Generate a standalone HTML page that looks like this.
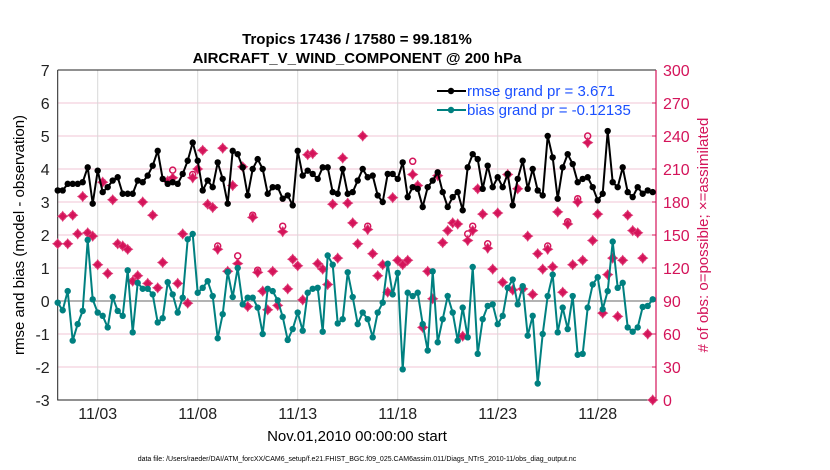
<!DOCTYPE html>
<html><head><meta charset="utf-8"><style>
body{margin:0;background:#fff;}
svg{display:block;font-family:"Liberation Sans",sans-serif;}
</style></head><body>
<svg id="chart" width="830" height="470" viewBox="0 0 830 470" xmlns="http://www.w3.org/2000/svg">
<rect width="830" height="470" fill="#fff"/>
<text x="357" y="44" font-size="15" font-weight="bold" text-anchor="middle">Tropics 17436 / 17580 = 99.181%</text>
<text x="357" y="63" font-size="15" font-weight="bold" text-anchor="middle">AIRCRAFT_V_WIND_COMPONENT @ 200 hPa</text>
<g id="grid"></g>
<g id="axes"></g>
<g id="series"></g>
<g>
<line x1="437" y1="91" x2="466" y2="91" stroke="#000" stroke-width="2"/>
<circle cx="451" cy="91" r="3.2" fill="#000"/>
<text x="467" y="96" font-size="15" fill="#1a4fff">rmse grand pr = 3.671</text>
<line x1="437" y1="110" x2="466" y2="110" stroke="#008080" stroke-width="2"/>
<circle cx="451" cy="110" r="3.2" fill="#008080"/>
<text x="467" y="115" font-size="15" fill="#1a4fff">bias grand pr = -0.12135</text>
</g>
<text transform="translate(24,235) rotate(-90)" font-size="15" text-anchor="middle">rmse and bias (model - observation)</text>
<text transform="translate(708,235) rotate(-90)" font-size="15" text-anchor="middle" fill="#d4145a"># of obs: o=possible; ×=assimilated</text>
<text x="357" y="441" font-size="15" text-anchor="middle">Nov.01,2010 00:00:00 start</text>
<text x="357" y="461" font-size="7" text-anchor="middle">data file: /Users/raeder/DAI/ATM_forcXX/CAM6_setup/f.e21.FHIST_BGC.f09_025.CAM6assim.011/Diags_NTrS_2010-11/obs_diag_output.nc</text>
</svg>
<script>
const rmse=[3.35,3.35,3.55,3.55,3.55,3.6,4.05,2.95,3.95,3.3,3.45,3.65,3.75,3.25,3.25,3.25,3.65,3.6,3.8,4.1,4.55,3.7,3.55,3.6,3.55,3.85,4.25,4.8,4.25,3.35,3.65,3.45,4.2,3.7,2.95,4.55,4.45,4.05,3.2,4.0,4.3,4.0,3.25,3.45,3.45,3.1,3.2,2.9,4.55,3.8,3.95,3.85,3.7,4.05,4.05,3.3,3.25,4.0,3.25,3.3,3.65,4.0,3.75,3.8,3.2,3.0,3.85,3.85,3.7,4.2,3.15,3.45,3.4,2.85,3.45,3.65,3.9,3.3,2.85,3.15,3.3,2.75,4.05,4.45,4.3,3.4,4.1,3.45,3.75,3.45,3.85,2.9,3.7,4.25,3.4,4.0,3.35,3.2,5.0,4.35,3.1,4.05,4.45,4.15,3.6,3.7,3.75,3.45,3.05,3.25,5.15,3.6,3.45,4.05,3.3,3.15,3.45,3.25,3.35,3.3];
const bias=[-0.05,-0.28,0.3,-1.2,-0.7,-0.3,1.85,0.05,-0.35,-0.45,-0.8,0.12,-0.3,-0.45,0.93,-0.95,0.55,0.37,0.37,0.2,-0.65,-0.52,0.57,0.2,-0.35,0.1,1.87,2.03,0.25,0.4,0.6,0.15,-1.13,-0.4,0.88,0.12,1.0,-0.1,0.1,0.1,-0.2,-1.0,0.37,0.3,0.02,-0.48,-1.18,-0.85,-0.35,-0.9,0.25,0.37,0.4,-0.93,1.38,1.1,-0.68,-0.55,0.87,0.12,-0.7,-0.35,-0.55,-1.1,-0.35,-0.05,1.13,0.2,0.85,-2.07,0.25,0.15,0.25,-0.7,-1.5,0.9,-1.25,-0.55,0.15,-0.35,-1.2,-0.2,-1.1,1.03,-1.6,-0.55,-0.15,-0.1,-0.7,-0.45,0.4,0.65,-0.1,0.45,-1.05,-0.45,-2.5,-1.0,0.15,0.8,-0.95,-0.2,-0.85,0.15,-1.63,-1.6,-0.2,0.5,0.72,-0.25,0.3,1.8,0.4,0.55,-0.8,-0.93,-0.8,-0.18,-0.15,0.05];
const nAssim=[142,167,142,168,151,185,152,149,123,198,115,182,142,140,137,108,113,180,106,168,102,125,199,202,106,151,88,202,210,227,178,175,137,229,117,195,124,212,85,166,116,99,82,117,86,153,101,128,122,91,223,224,124,119,105,178,129,220,179,161,142,240,155,133,113,123,98,184,127,123,127,205,195,66,117,92,204,143,154,161,160,58,145,154,192,169,138,119,170,107,205,100,192,101,149,96,133,119,137,121,171,98,160,123,180,127,234,145,169,79,114,129,76,127,168,154,152,129,60,0];
const nPoss=nAssim.slice();
const possIdx=[23,27,32,36,39,40,45,62,71,82,83,86,98,102,104,106];
const possVal=[209,205,140,131,168,118,158,158,217,151,158,142,140,162,183,240];
const xTickLabels=["11/03","11/08","11/13","11/18","11/23","11/28"];
const xTickDays=[2,7,12,17,22,27];
const yLeftTicks=[-3,-2,-1,0,1,2,3,4,5,6,7];
const yRightTicks=[0,30,60,90,120,150,180,210,240,270,300];
possIdx.forEach((k,i)=>{nPoss[k]=possVal[i];});

const L=57.7,R=656,T=70,B=400;
const xs=d=>L+d*20;
const yl=v=>B-(v+3)*(B-T)/10;
const yr=v=>B-v*(B-T)/300;
const NS="http://www.w3.org/2000/svg";
function mk(tag,attrs,parent){const e=document.createElementNS(NS,tag);for(const k in attrs)e.setAttribute(k,attrs[k]);parent.appendChild(e);return e;}
const grid=document.getElementById('grid'),axes=document.getElementById('axes'),ser=document.getElementById('series');

yLeftTicks.forEach(v=>{
  if(v>-3&&v<7){const g=mk('line',{x1:L,x2:R,y1:yl(v),y2:yl(v),stroke:'#f2c6d6','stroke-width':1},grid);
  
  }
  const t=mk('text',{x:L-8,y:yl(v)+6,'font-size':16,'text-anchor':'end',fill:'#222'},axes);t.textContent=v;
  
  
});
yRightTicks.forEach(v=>{
  const t=mk('text',{x:R+7,y:yr(v)+6,'font-size':16,fill:'#d4145a'},axes);t.textContent=v;
  
  
  mk('line',{x1:R-4,x2:R,y1:yr(v),y2:yr(v),stroke:'#d4145a'},axes);
});
xTickDays.forEach((d,i)=>{
  const g=mk('line',{x1:xs(d),x2:xs(d),y1:T,y2:B,stroke:'#d8d8d8'},grid);
  
  
  const t=mk('text',{x:xs(d),y:B+19,'font-size':16,'text-anchor':'middle',fill:'#222'},axes);t.textContent=xTickLabels[i];
  
  
});
const zl=mk('line',{x1:L,x2:R,y1:yl(0),y2:yl(0),stroke:'#b3b3b3','stroke-width':2},grid);


const fr=mk('path',{d:`M${L},${T}H${R}M${L},${T}V${B}H${R}`,fill:'none',stroke:'#222','stroke-width':1},axes);


const ra=mk('line',{x1:R,x2:R,y1:T,y2:B,stroke:'#d4145a','stroke-width':1.2},axes);



const xi=k=>xs(k*0.25);
nPoss.forEach((v,k)=>{
  const c=mk('circle',{cx:xi(k),cy:yr(v),r:3,fill:'none',stroke:'#d4145a','stroke-width':1.5},ser);
  
  
});
nAssim.forEach((v,k)=>{
  const x=xi(k),y=yr(v);
  const p=mk('path',{d:`M${x},${y-5}L${x+2},${y-2}L${x+5},${y}L${x+2},${y+2}L${x},${y+5}L${x-2},${y+2}L${x-5},${y}L${x-2},${y-2}Z`,fill:'#d4145a',stroke:'#e0407a','stroke-width':0.8},ser);
  
  
});
function line(vals,color,name){
  const pl=mk('polyline',{points:vals.map((v,k)=>xi(k)+','+yl(v)).join(' '),fill:'none',stroke:color,'stroke-width':2},ser);
  
  
  vals.forEach((v,k)=>{
    const c=mk('circle',{cx:xi(k),cy:yl(v),r:3.2,fill:color},ser);
    
    
  });
}
line(bias,'#008080','bias');
line(rmse,'#000','rmse');
</script>
</body></html>
